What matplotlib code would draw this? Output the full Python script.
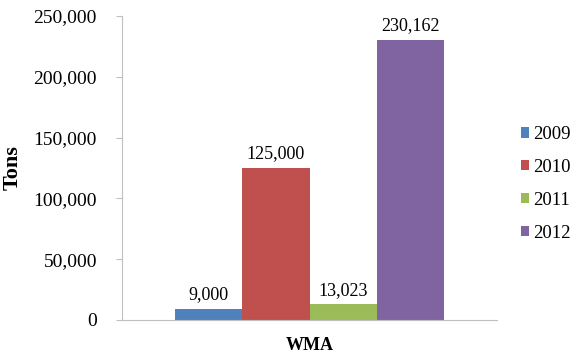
import matplotlib
matplotlib.use("Agg")
import matplotlib.pyplot as plt
import numpy as np

# chart data
category = "WMA"
years = ["2009", "2010", "2011", "2012"]
tons = [9000, 125000, 13023, 230162]
colors = ["#4F81BD", "#C0504D", "#9BBB59", "#8064A2"]

plt.rcParams["font.family"] = ["Liberation Serif", "DejaVu Serif"]

fig = plt.figure(figsize=(5.8, 3.54), dpi=100)
ax = fig.add_axes([122 / 580, 34 / 354, 375 / 580, 304 / 354])

bar_w = 0.179
offsets = (np.arange(len(years)) - (len(years) - 1) / 2) * bar_w
for off, val, yr, col in zip(offsets, tons, years, colors):
    ax.bar(off, val, width=bar_w, color=col, label=yr, edgecolor="none")
    ax.annotate(f"{val:,}", (off, val), xytext=(0, 4), textcoords="offset points",
                ha="center", va="bottom", fontsize=13)

ax.set_xlim(-0.5, 0.5)
ax.set_ylim(0, 250000)
ax.set_yticks(np.arange(0, 250001, 50000))
ax.yaxis.set_major_formatter(matplotlib.ticker.FuncFormatter(lambda v, p: f"{int(v):,}"))
ax.set_xticks([0])
ax.set_xticklabels([category], fontweight="bold", fontsize=13)
ax.tick_params(axis="x", length=0, pad=12)
ax.tick_params(axis="y", labelsize=14, length=4, color="#BFBFBF", pad=14)
ax.set_ylabel("Tons", fontweight="bold", fontsize=16, labelpad=8)

for s in ["top", "right"]:
    ax.spines[s].set_visible(False)
for s in ["left", "bottom"]:
    ax.spines[s].set_color("#BFBFBF")

fig.legend(loc="center left", bbox_to_anchor=(0.898, 0.48), frameon=False,
           fontsize=13.5, handlelength=0.45, handleheight=0.45, handletextpad=0.2,
           labelspacing=0.85, borderaxespad=0, borderpad=0)

fig.savefig("out.png", dpi=100)
